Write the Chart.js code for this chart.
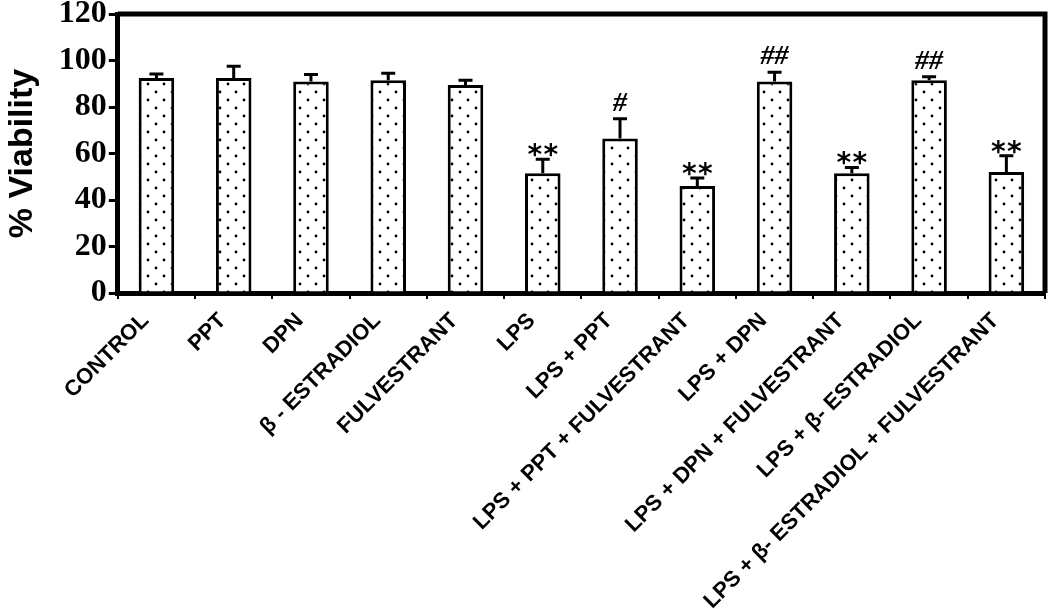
<!DOCTYPE html>
<html>
<head>
<meta charset="utf-8">
<script src="https://cdn.jsdelivr.net/npm/chart.js@4.4.0/dist/chart.umd.min.js"></script>
<style>
  html, body { margin: 0; padding: 0; background: #fff; }
  #wrap { width: 1050px; height: 609px; }
</style>
</head>
<body>
<div id="wrap"><canvas id="chart"></canvas></div>
<script>
// values
const categories = ['CONTROL', 'PPT', 'DPN', 'β - ESTRADIOL', 'FULVESTRANT', 'LPS', 'LPS + PPT',
    'LPS + PPT + FULVESTRANT', 'LPS + DPN', 'LPS + DPN + FULVESTRANT', 'LPS + β- ESTRADIOL',
    'LPS + β- ESTRADIOL + FULVESTRANT'];
const viability = [92.5, 92.5, 91, 91.5, 89.5, 51.5, 66.5, 46, 91, 51.5, 91.5, 52];
const sem = [1.7, 5, 3, 3, 2, 6, 8.5, 3.5, 4, 2.5, 1.5, 7];
const marks = ['', '', '', '', '', '**', '#', '**', '##', '**', '##', '**'];
const yMin = 0;
const yMax = 120;
const yStep = 20;

// dotted fill like the printed figure
function dotPattern() {
    const c = document.createElement('canvas');
    c.width = 16;
    c.height = 16;
    const g = c.getContext('2d');
    g.fillStyle = '#fff';
    g.fillRect(0, 0, 16, 16);
    g.fillStyle = '#000';
    [[4, 4], [12, 12]].forEach(([x, y]) => {
        g.beginPath();
        g.arc(x, y, 1.4, 0, Math.PI * 2);
        g.fill();
    });
    return g.createPattern(c, 'repeat');
}

const errorBars = {
    id: 'errorBars',
    afterDatasetsDraw(chart) {
        const ctx = chart.ctx;
        const meta = chart.getDatasetMeta(0);
        const y = chart.scales.y;
        ctx.save();
        ctx.strokeStyle = '#000';
        ctx.fillStyle = '#000';
        meta.data.forEach((bar, i) => {
            const top = y.getPixelForValue(viability[i] + sem[i]);
            ctx.lineWidth = 3;
            ctx.beginPath();
            ctx.moveTo(bar.x, bar.y);
            ctx.lineTo(bar.x, top);
            ctx.moveTo(bar.x - 7, top);
            ctx.lineTo(bar.x + 7, top);
            ctx.stroke();

            const m = marks[i];
            if (!m) return;
            ctx.textAlign = 'center';
            if (m[0] === '*') {
                ctx.font = 'bold 28px "DejaVu Sans"';
                ctx.textBaseline = 'alphabetic';
                ctx.fillText('*', bar.x - 8, top + 5);
                ctx.fillText('*', bar.x + 8, top + 5);
            } else {
                ctx.font = 'italic bold 28px "Liberation Serif"';
                ctx.textBaseline = 'bottom';
                ctx.fillText(m, bar.x, top - 1);
            }
        });
        ctx.restore();
    }
};

const frame = {
    id: 'frame',
    afterDraw(chart) {
        const a = chart.chartArea;
        const ctx = chart.ctx;
        ctx.save();
        ctx.strokeStyle = '#000';
        ctx.lineWidth = 5;
        ctx.beginPath();
        ctx.moveTo(a.left, a.top);
        ctx.lineTo(a.right, a.top);
        ctx.lineTo(a.right, a.bottom);
        ctx.stroke();
        ctx.restore();
    }
};

new Chart(document.getElementById('chart'), {
    type: 'bar',
    data: {
        labels: categories,
        datasets: [{
            data: viability,
            backgroundColor: dotPattern(),
            borderColor: '#000',
            borderWidth: 3,
            barPercentage: 0.46,
            categoryPercentage: 1
        }]
    },
    options: {
        responsive: true,
        maintainAspectRatio: false,
        animation: false,
        layout: { padding: { top: 2, right: 5, left: 2, bottom: 0 } },
        plugins: {
            legend: { display: false },
            tooltip: { enabled: false }
        },
        scales: {
            x: {
                afterFit(scale) {
                    scale.height = 316;
                },
                grid: {
                    drawOnChartArea: false,
                    drawTicks: true,
                    tickLength: 6,
                    lineWidth: 2,
                    color: '#000',
                    offset: true
                },
                border: { display: true, color: '#000', width: 5 },
                ticks: {
                    color: '#000',
                    minRotation: 45,
                    maxRotation: 45,
                    autoSkip: false,
                    padding: 9,
                    labelOffset: -11,
                    font: { family: '"Liberation Sans"', size: 22, weight: 'bold' }
                }
            },
            y: {
                min: yMin,
                max: yMax,
                grid: {
                    drawOnChartArea: false,
                    drawTicks: true,
                    tickLength: 9,
                    lineWidth: 3,
                    color: '#000'
                },
                border: { display: true, color: '#000', width: 5 },
                ticks: {
                    stepSize: yStep,
                    color: '#000',
                    padding: 2,
                    font: { family: '"Liberation Serif"', size: 32, weight: 'bold', lineHeight: 0.75 }
                },
                title: {
                    display: true,
                    text: '% Viability',
                    color: '#000',
                    padding: { top: 0, bottom: 14 },
                    font: { family: '"Liberation Sans"', size: 34, weight: 'bold' }
                }
            }
        }
    },
    plugins: [errorBars, frame]
});
</script>
</body>
</html>
